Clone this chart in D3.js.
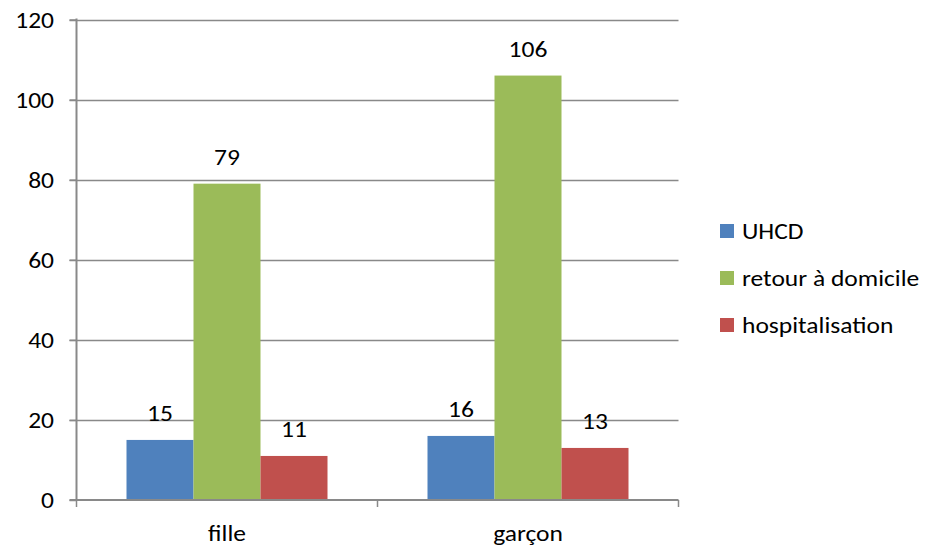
<!DOCTYPE html>
<html><head><meta charset="utf-8">
<script src="https://cdn.jsdelivr.net/npm/d3@7"></script>
<style>body{margin:0;background:#fff}text{font-family:Calibri,Carlito,"Open Sans",sans-serif;fill:#000}</style>
</head><body><svg id="c" width="930" height="549"></svg>
<script>
const categories = ["fille", "garçon"];
const seriesNames = ["UHCD", "retour à domicile", "hospitalisation"];
const UHCD = [15, 16];
const retour = [79, 106];
const hospit = [11, 13];
const yTicks = [0, 20, 40, 60, 80, 100, 120];
const colors = ["#4F81BD", "#9BBB59", "#C0504D"];
const seriesValues = [UHCD, retour, hospit];

(function () {
const svg = d3.select("#c");
const FS = 23, SX = 1.11;
const pLeft = 76.5, pRight = 678.5, pTop = 19.5, pBottom = 500;
const y = d3.scaleLinear().domain([0, 120]).range([pBottom, pTop]);
const x0 = d3.scaleBand().domain(categories).range([pLeft, pRight]).paddingInner(0).paddingOuter(0);
const x1 = d3.scaleBand().domain(seriesNames).range([50, x0.bandwidth() - 50]).padding(0);
const grid = "#898989";

function txt(parent, x, yy, anchor, s) {
  return parent.append("text").attr("transform", `translate(${x},${yy}) scale(${SX},1)`)
    .attr("text-anchor", anchor).attr("font-size", FS).text(s);
}

// gridlines
svg.append("g").selectAll("line").data(yTicks.filter(d => d > 0)).join("line")
  .attr("x1", pLeft - 7).attr("x2", pRight).attr("y1", d => Math.round(y(d)) + 0.5).attr("y2", d => Math.round(y(d)) + 0.5)
  .attr("stroke", grid).attr("stroke-width", 1.5);

// bars
const g = svg.append("g");
seriesNames.forEach((s, si) => {
  g.selectAll(null).data(categories).join("rect")
    .attr("x", c => x0(c) + x1(s)).attr("width", x1.bandwidth())
    .attr("y", (c, i) => y(seriesValues[si][i])).attr("height", (c, i) => pBottom - y(seriesValues[si][i]))
    .attr("fill", colors[si]);
  categories.forEach((c, i) => {
    txt(g, x0(c) + x1(s) + x1.bandwidth() / 2, y(seriesValues[si][i]) - 19, "middle", seriesValues[si][i]);
  });
});

// y axis
const yAxis = d3.axisLeft(y).tickValues(yTicks).tickSize(7).tickFormat("");
const ya = svg.append("g").attr("transform", `translate(${pLeft},0)`).call(yAxis);
ya.select(".domain").attr("stroke", grid).attr("stroke-width", 2).attr("d", `M0,${pTop - 1}V${pBottom}`);
ya.selectAll(".tick line").attr("stroke", grid).attr("stroke-width", 1.5);
ya.selectAll(".tick text").remove();
yTicks.forEach(t => txt(svg, 54, y(t) + 8, "end", t));

// x axis
const xa = svg.append("g").attr("transform", `translate(0,${pBottom})`);
xa.append("line").attr("x1", pLeft - 7).attr("x2", pRight).attr("y1", 0).attr("y2", 0).attr("stroke", grid).attr("stroke-width", 2);
const bounds = [pLeft, ...categories.map(c => x0(c) + x0.bandwidth())];
xa.selectAll(".t").data(bounds).join("line").attr("x1", d => d).attr("x2", d => d).attr("y1", 0).attr("y2", 7)
  .attr("stroke", grid).attr("stroke-width", 1.5);
categories.forEach(c => txt(xa, x0(c) + x0.bandwidth() / 2, 41, "middle", c));

// legend
const lg = svg.append("g");
seriesNames.forEach((s, i) => {
  const cy = 231 + i * 47;
  lg.append("rect").attr("x", 720).attr("y", cy - 7).attr("width", 14).attr("height", 14).attr("fill", colors[i]);
  txt(lg, 742, cy + 8, "start", s);
});
})();
</script></body></html>
